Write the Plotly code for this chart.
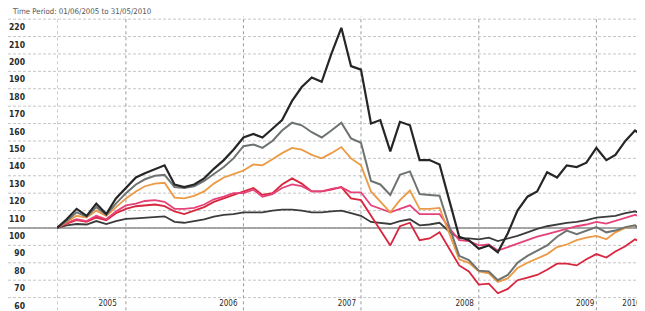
import plotly.graph_objects as go
import pandas as pd

# Monthly index values (rebased to 100), June 2005 -> June 2010
dates = pd.date_range("2005-06-01", "2010-06-01", freq="MS")

black = [100, 105, 111, 107, 114, 108, 117, 123, 129, 131.5,
         134, 136, 125, 123.5, 125, 128.5, 134, 139, 145, 152,
         154, 152, 157, 162, 173, 181, 186.5, 184, 200, 215,
         193, 191, 160, 162, 144, 161, 159, 139, 139, 136.5,
         116, 95, 93, 88, 90, 86, 97, 110, 118, 121,
         132, 129, 136, 135, 137.5, 146, 139, 142, 150, 156,
         152]
grey = [100, 104, 109, 106.5, 112, 107.5, 114, 120, 125, 128,
        130, 130.5, 123.5, 123, 124, 127, 131, 135, 140, 147,
        148, 146, 150, 156, 160.5, 159, 155, 152, 156, 160.5,
        151.5, 149, 127, 125, 119, 130.5, 132.5, 119.5, 119, 118.5,
        101, 84, 81.5, 75.5, 75, 70, 73, 80, 84, 87,
        90, 95, 98.5, 96.5, 98.5, 100.5, 97.5, 98.5, 100.5, 101.5,
        96.5]
orange = [100, 103.5, 107, 106, 110, 107, 112, 117, 121, 124,
          125.5, 126, 117.5, 117, 118.5, 121, 125.5, 129, 131, 133,
          136.5, 136, 139.5, 143, 146, 145, 142, 140, 143, 146.5,
          140, 136, 121, 115, 109, 116, 121.5, 111, 111, 111.5,
          97, 82, 80, 75, 74, 69, 71, 77, 80, 82.5,
          85, 89, 90.5, 93, 94.5, 95.5, 93.5, 97.5, 100, 101.5,
          98.5]
pink = [100, 103, 105, 104, 107, 105, 109.5, 113, 114, 115.5,
        116, 115, 111, 111, 111.5, 113.5, 116.5, 118, 120, 120,
        122, 118, 119.5, 123, 125, 124, 121, 121, 122.5, 123.5,
        120.5, 120.5, 113, 111, 109, 111, 113, 108, 108, 108,
        100, 93, 92.5, 90, 90.5, 87, 89, 91, 93, 95,
        96.5, 98, 99.5, 101, 102, 103.5, 102.5, 104, 106, 107.5,
        106]
red = [100, 102.5, 104.5, 103.5, 106, 104.5, 108.5, 111, 112.5, 113,
       113.5, 112.5, 109.5, 108, 110, 112, 115, 117, 119, 121,
       123, 119, 120, 125, 128.5, 125.5, 121, 121, 122, 123.5,
       117, 116, 107, 99, 90, 101, 103, 93, 94, 97.5,
       88, 78.5, 75, 67.5, 68, 62.5, 65, 70, 71.5, 73,
       76, 79.5, 79.5, 78.5, 82, 85, 83, 86.5, 89.5, 93.5,
       91]
darkgrey = [100, 101.5, 102.3, 102, 104, 102.3, 104, 105.2, 105.5, 106,
            106.5, 106.7, 103.5, 103, 104, 105, 106.5, 107.5, 108, 109,
            109, 109, 110, 110.5, 110.5, 110, 109, 109, 109.5, 110,
            108.5, 107, 103.5, 103, 102.3, 104, 105, 101.5, 102, 103,
            98, 94, 94, 93.5, 94.5, 92.5, 94, 95.5, 97.5, 99.5,
            101, 102, 103, 103.5, 104.5, 106, 106.5, 107, 108.5, 109.5,
            108]

ytick_vals = list(range(60, 230, 10))
ytick_text = [str(v) for v in ytick_vals]
year_labels = ["2005", "2006", "2007", "2008", "2009", "2010"]
year_label_dates = ["2005-11-05", "2006-11-15", "2007-11-18", "2008-11-18", "2009-11-27", "2010-04-20"]
year_grid_dates = ["2005-06-01", "2006-01-01", "2007-01-01", "2008-01-01", "2009-01-01", "2010-01-01"]

# the page body has an 8px default margin, so the figure is sized to fill the rest
W, H = 637, 303
L, R, T, B = 49, 0, 8, 12
plot_w = W - L - R
plot_h = H - T - B
left_paper = -L / plot_w

fig = go.Figure()
series = [
    (darkgrey, "#3b3b3b", 1.8),
    (red, "#d8263f", 1.8),
    (pink, "#e6427a", 1.8),
    (orange, "#ec9a45", 1.8),
    (grey, "#6d7370", 2.0),
    (black, "#262626", 2.2),
]
for vals, color, w in series:
    fig.add_trace(go.Scatter(x=dates, y=vals, mode="lines",
                             line=dict(color=color, width=w),
                             showlegend=False, hoverinfo="skip"))

shapes = []
for v in ytick_vals:
    shapes.append(dict(type="line", xref="paper", yref="y", x0=left_paper, x1=1,
                       y0=v, y1=v, layer="below",
                       line=dict(color="#c6c6c6", width=1, dash="3px,2px")))
shapes.append(dict(type="line", xref="paper", yref="y", x0=left_paper, x1=1,
                   y0=100, y1=100, layer="below",
                   line=dict(color="#8c8c8c", width=1.6)))
for d in year_grid_dates:
    shapes.append(dict(type="line", xref="x", yref="paper", x0=d, x1=d,
                       y0=-0.04, y1=1, layer="below",
                       line=dict(color="#9a9a9a", width=1, dash="dot")))

fig.update_layout(
    width=W, height=H,
    margin=dict(l=L, r=R, t=T, b=B, pad=0),
    paper_bgcolor="white", plot_bgcolor="white",
    shapes=shapes,
    xaxis=dict(range=[dates[0], dates[-1]], tickvals=year_label_dates, ticktext=year_labels,
               showgrid=False, zeroline=False, showline=False, ticks="", automargin=False,
               ticklabelstandoff=-2, ticklabeloverflow="allow",
               tickfont=dict(family="DejaVu Sans Condensed", size=8, color="#2a2a2a")),
    yaxis=dict(range=[59.2, 221.8], tickvals=ytick_vals, ticktext=ytick_text,
               showgrid=False, zeroline=False, showline=False, ticks="", automargin=False,
               ticklabelstandoff=31, ticklabelshift=8, ticklabeloverflow="allow",
               tickfont=dict(family="DejaVu Sans Condensed", size=8.5, color="#2a2a2a", weight="bold")),
    annotations=[dict(text="Time Period: 01/06/2005 to 31/05/2010", xref="paper", yref="paper",
                      x=left_paper + 2 / plot_w, y=1 + 5 / plot_h, xanchor="left", yanchor="middle",
                      showarrow=False, font=dict(family="DejaVu Sans Condensed", size=7.8, color="#555555"))],
)

fig.write_html("out.html")
